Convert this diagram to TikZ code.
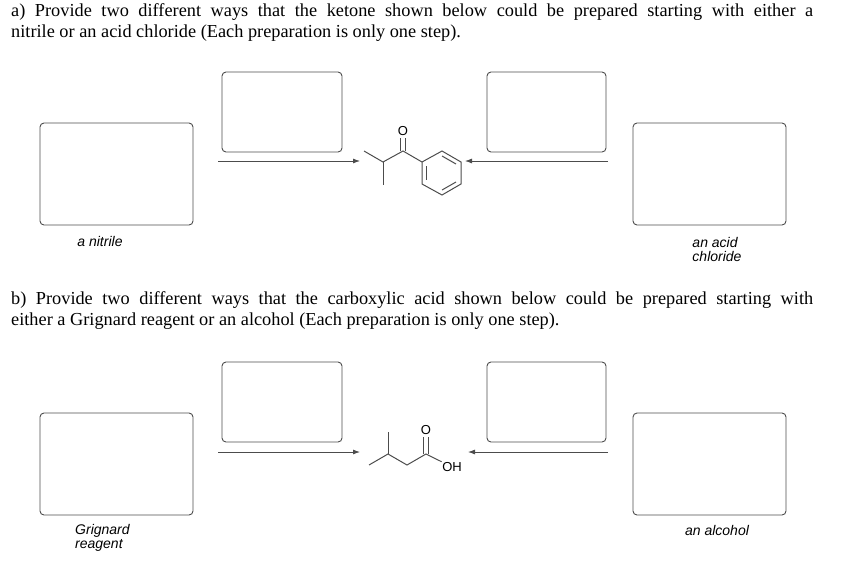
\documentclass[tikz,border=0pt]{standalone}
\usepackage{fontspec}
\setmainfont{Liberation Serif}
\newfontfamily\lsans{Liberation Sans}
\usetikzlibrary{arrows.meta}
\begin{document}
\begin{tikzpicture}[x=1pt,y=-1pt,
  box/.style={draw=black!70,rounded corners=4pt,line width=0.9pt},
  rxn/.style={draw=black!70,line width=0.8pt,-{Latex[length=7pt,width=5pt]}},
  bond/.style={draw=black!70,line width=1pt},
  lbl/.style={font=\lsans\itshape\fontsize{14}{14}\selectfont,align=left,inner sep=0pt},
  ttl/.style={font=\fontsize{18.3}{21}\selectfont,text width=802pt,align=justify,inner sep=0pt,anchor=north west},
  atom/.style={font=\lsans\fontsize{13}{13}\selectfont,inner sep=0.5pt}]
\useasboundingbox (0,0) rectangle (853,568);
\node[ttl] (ta) at (11,3) {a) Provide two different ways that the ketone shown below could be prepared starting with either a\linebreak nitrile or an acid chloride (Each preparation is only one step).};
\node[ttl] (tb) at (11,291) {b) Provide two different ways that the carboxylic acid shown below could be prepared starting with\linebreak either a Grignard reagent or an alcohol (Each preparation is only one step).};
% part a
\draw[box] (40,123) rectangle (193,225);
\draw[box] (222,72) rectangle (342,152);
\draw[box] (487,72) rectangle (606,152);
\draw[box] (633,123) rectangle (786,225);
\coordinate (a1) at (218,161); \coordinate (a1e) at (360,161);
\coordinate (a2) at (608,161); \coordinate (a2e) at (465,161);
\draw[rxn] (a1) -- (a1e);
\draw[rxn] (a2) -- (a2e);
\node[lbl] (ln) at (100,241) {a nitrile};
\node[lbl] (lc) at (717,249) {an acid\\chloride};
% ketone
\node[atom] (O1) at (403,131) {O};
\draw[bond] (364,151) -- (383,162) -- (403,151) -- (422,162);
\draw[bond] (383,162) -- (383,185);
\draw[bond] (400.5,151) -- (400.5,138);
\draw[bond] (405.5,151) -- (405.5,138);
\draw[bond] (422,162) -- (442,151) -- (461,162) -- (461,184) -- (442,195) -- (422,184) -- cycle;
\draw[bond] (426,166) -- (426,180);
\draw[bond] (442,156) -- (456,164);
\draw[bond] (442,190) -- (456,182);
% part b
\draw[box] (40,413) rectangle (193,515);
\draw[box] (222,362) rectangle (342,442);
\draw[box] (487,362) rectangle (606,442);
\draw[box] (633,413) rectangle (786,515);
\coordinate (b1) at (218,452); \coordinate (b1e) at (360,452);
\coordinate (b2) at (608,452); \coordinate (b2e) at (468,452);
\draw[rxn] (b1) -- (b1e);
\draw[rxn] (b2) -- (b2e);
\node[lbl,anchor=west] (lg) at (75,538) {Grignard\\reagent};
\node[lbl] (la) at (717,530) {an alcohol};
% acid
\node[atom] (O2) at (426,430) {O};
\node[atom] (OH) at (452,467) {OH};
\draw[bond] (369,465) -- (388,454) -- (407,465) -- (426,454) -- (OH.north west);
\draw[bond] (388,454) -- (388,432);
\draw[bond] (423.5,454) -- (423.5,437);
\draw[bond] (428.5,454) -- (428.5,437);
\end{tikzpicture}
\end{document}
